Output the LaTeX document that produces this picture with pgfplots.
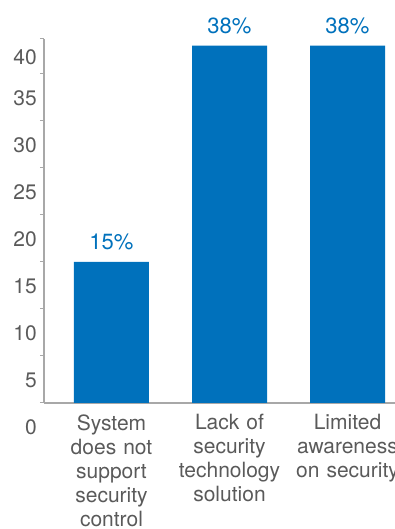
\documentclass[border=0pt]{standalone}
\usepackage{pgfplots}
\pgfplotsset{compat=1.18}
\usepackage{fontspec}
\setmainfont{TeX Gyre Heros}
\definecolor{barblue}{HTML}{0071BC}
\definecolor{txtgray}{HTML}{5A5A5A}
\definecolor{axgray}{HTML}{A8A8A8}
\begin{document}
\begin{tikzpicture}[x=1pt,y=1pt]
\path[use as bounding box] (0,0) rectangle (395,529);
\begin{axis}[
  at={(44pt,126pt)}, anchor=south west,
  scale only axis, width=374.3pt, height=364pt,
  xmin=-0.572, xmax=2.6, ymin=0, ymax=38.7,
  clip=false,
  axis x line*=bottom, axis y line*=left,
  axis line style={axgray, line width=1.2pt},
  xtick={0,1,2},
  xticklabels={{System\\does not\\support\\security\\control},{Lack of\\security\\technology\\solution},{Limited\\awareness\\on security}},
  xticklabel style={text width=140pt, align=center, font=\fontsize{21}{24}\selectfont, text=txtgray, yshift=-4pt},
  x tick style={draw=none},
  ytick={0,5,...,35},
  yticklabels={0,5,10,15,20,25,30,35},
  extra y ticks={38.7}, extra y tick labels={40},
  extra y tick style={yticklabel style={yshift=6pt}},
  yticklabel style={font=\fontsize{21}{24}\selectfont, text=txtgray, yshift=-24pt, inner sep=0pt, xshift=-3pt},
  tick align=outside, major tick length=4pt,
  y tick style={axgray, line width=1pt},
  ybar, bar width=75pt,
  nodes near coords, point meta=explicit symbolic,
  every node near coord/.append style={font=\fontsize{22}{26}\selectfont, text=barblue, yshift=8pt},
]
\addplot[fill=barblue, draw=none] coordinates {(0,15) [15\%] (1,38) [38\%] (2,38) [38\%]};
\end{axis}
\end{tikzpicture}
\end{document}
